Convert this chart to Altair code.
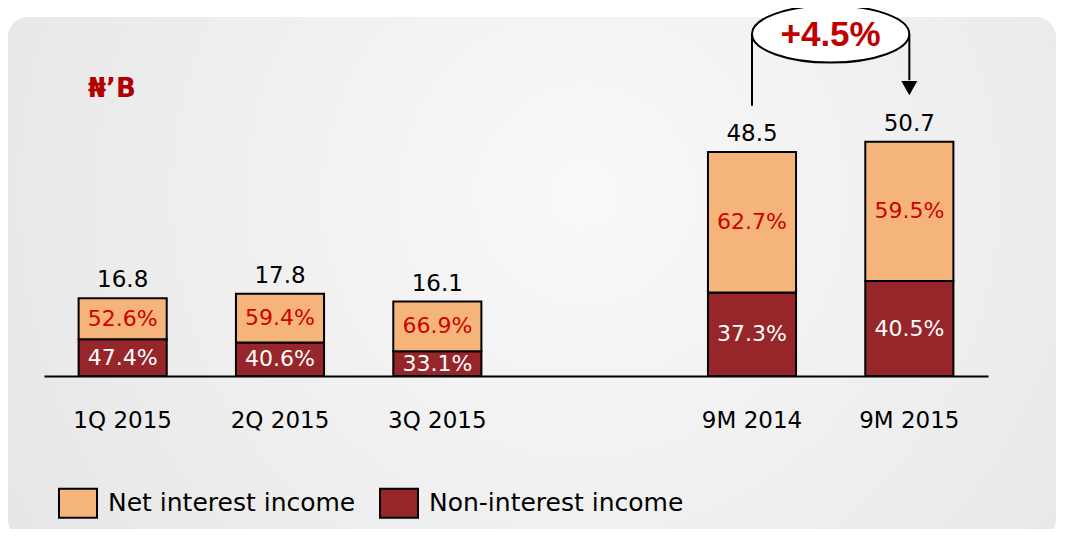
import altair as alt
import pandas as pd

# ---- data ----
categories = ["1Q 2015", "2Q 2015", "3Q 2015", "9M 2014", "9M 2015"]
slots = ["1Q 2015", "2Q 2015", "3Q 2015", " ", "9M 2014", "9M 2015"]
totals = [16.8, 17.8, 16.1, 48.5, 50.7]
net_pct = [52.6, 59.4, 66.9, 62.7, 59.5]
non_pct = [47.4, 40.6, 33.1, 37.3, 40.5]
series = ["Net interest income", "Non-interest income"]
unit_label = "₦’B"
change_label = "+4.5%"
bracket_from, bracket_to = "9M 2014", "9M 2015"
bracket_left_start = 58.5
bracket_top = 74.0
bracket_right_end = 64.0
arrow_center = 62.3

FONT = "DejaVu Sans"
ORANGE = "#F5B57A"
DARKRED = "#962629"

rows = []
for c, t, pn, pm in zip(categories, totals, net_pct, non_pct):
    non_v = t * pm / 100.0
    rows.append({"cat": c, "series": series[1], "y0": 0.0, "y1": non_v,
                 "mid": non_v / 2.0, "label": f"{pm:.1f}%"})
    rows.append({"cat": c, "series": series[0], "y0": non_v, "y1": t,
                 "mid": (non_v + t) / 2.0, "label": f"{pn:.1f}%"})
seg = pd.DataFrame(rows)
tot = pd.DataFrame({"cat": categories, "total": totals})

xscale = alt.Scale(domain=slots, paddingInner=0.44, paddingOuter=0.22)
yscale = alt.Scale(domain=[0, 69.9])
X = alt.X("cat:N", scale=xscale, sort=None,
          axis=alt.Axis(title=None, domainColor="black", domainWidth=2, ticks=False,
                        tickSize=0, labelFontSize=23, labelFont=FONT, labelColor="black",
                        labelAngle=0, labelBaseline="alphabetic", labelPadding=51,
                        grid=False, zindex=1))

gradient = {
    "gradient": "radial",
    "x1": 0.55, "y1": 0.42, "r1": 0.0,
    "x2": 0.55, "y2": 0.42, "r2": 0.75,
    "stops": [{"offset": 0, "color": "#f9f9f9"}, {"offset": 1, "color": "#e3e3e3"}],
}
bg = alt.Chart(pd.DataFrame({"a": [0]})).mark_rect(cornerRadius=20, color=gradient).encode(
    x=alt.value(-36), x2=alt.value(1012), y=alt.value(-36), y2=alt.value(487))

bars = alt.Chart(seg).mark_bar(stroke="black", strokeWidth=2, opacity=1).encode(
    x=X,
    y=alt.Y("y0:Q", scale=yscale, axis=None),
    y2="y1:Q",
    color=alt.Color("series:N", scale=alt.Scale(domain=series, range=[ORANGE, DARKRED]),
                    legend=alt.Legend(title=None, orient="none", legendX=14, legendY=430,
                                      direction="horizontal",
                                      symbolType="M-1,-0.76H1V0.76H-1Z", symbolSize=1444,
                                      symbolStrokeColor="black", symbolStrokeWidth=2,
                                      symbolOpacity=1, labelLimit=500,
                                      labelFontSize=25, labelFont=FONT, labelColor="black",
                                      labelOffset=10, columnPadding=20, padding=0)),
)

pct = alt.Chart(seg).mark_text(fontSize=22, font=FONT, baseline="middle").encode(
    x=alt.X("cat:N", scale=xscale, sort=None),
    y=alt.Y("mid:Q", scale=yscale),
    text="label:N",
    color=alt.condition(alt.datum.series == series[0], alt.value("#D00000"), alt.value("white")),
)

tot_text = alt.Chart(tot).mark_text(fontSize=23, font=FONT, baseline="alphabetic", dy=-11,
                                    color="black").encode(
    x=alt.X("cat:N", scale=xscale, sort=None),
    y=alt.Y("total:Q", scale=yscale),
    text=alt.Text("total:Q", format=".1f"),
)

rules_df = pd.DataFrame({"cat": [bracket_from, bracket_to],
                         "ya": [bracket_left_start, bracket_top],
                         "yb": [bracket_top, bracket_right_end]})
rules = alt.Chart(rules_df).mark_rule(color="black", strokeWidth=2).encode(
    x=alt.X("cat:N", scale=xscale, sort=None),
    y=alt.Y("ya:Q", scale=yscale),
    y2="yb:Q",
)

ann_df = pd.DataFrame({"cat": [bracket_from], "y": [bracket_top], "t": [change_label]})
ellipse = alt.Chart(ann_df).mark_point(
    shape="M-1,0A1,0.363,0,1,1,1,0A1,0.363,0,1,1,-1,0Z", size=24750,
    filled=True, fill="white", stroke="black", strokeWidth=2, opacity=1,
    xOffset=78.6).encode(
    x=alt.X("cat:N", scale=xscale, sort=None),
    y=alt.Y("y:Q", scale=yscale),
)
ann_text = alt.Chart(ann_df).mark_text(
    font="Liberation Sans", fontWeight="bold", fontSize=35, color="#C00000",
    baseline="middle", xOffset=78.6, dy=1).encode(
    x=alt.X("cat:N", scale=xscale, sort=None),
    y=alt.Y("y:Q", scale=yscale),
    text="t:N",
)

arrow_df = pd.DataFrame({"cat": [bracket_to], "y": [arrow_center]})
arrow = alt.Chart(arrow_df).mark_point(
    shape="M-1,-0.9L1,-0.9L0,0.9Z", size=256, filled=True, color="black", opacity=1).encode(
    x=alt.X("cat:N", scale=xscale, sort=None),
    y=alt.Y("y:Q", scale=yscale),
)

title = alt.Chart(pd.DataFrame({"t": [unit_label]})).mark_text(
    align="left", baseline="alphabetic", fontSize=26, fontWeight="bold",
    color="#B00000", font=FONT).encode(
    x=alt.value(44), y=alt.value(44), text="t:N")

chart = alt.layer(bg, bars, pct, tot_text, rules, ellipse, ann_text, arrow, title).properties(
    width=944, height=323,
    padding={"left": 36, "top": 45, "right": 69, "bottom": 153},
    autosize=alt.AutoSizeParams(type="none"),
    background="white",
).configure_view(stroke=None)

chart.save("out.html", embed_options={"renderer": "svg", "actions": False})
